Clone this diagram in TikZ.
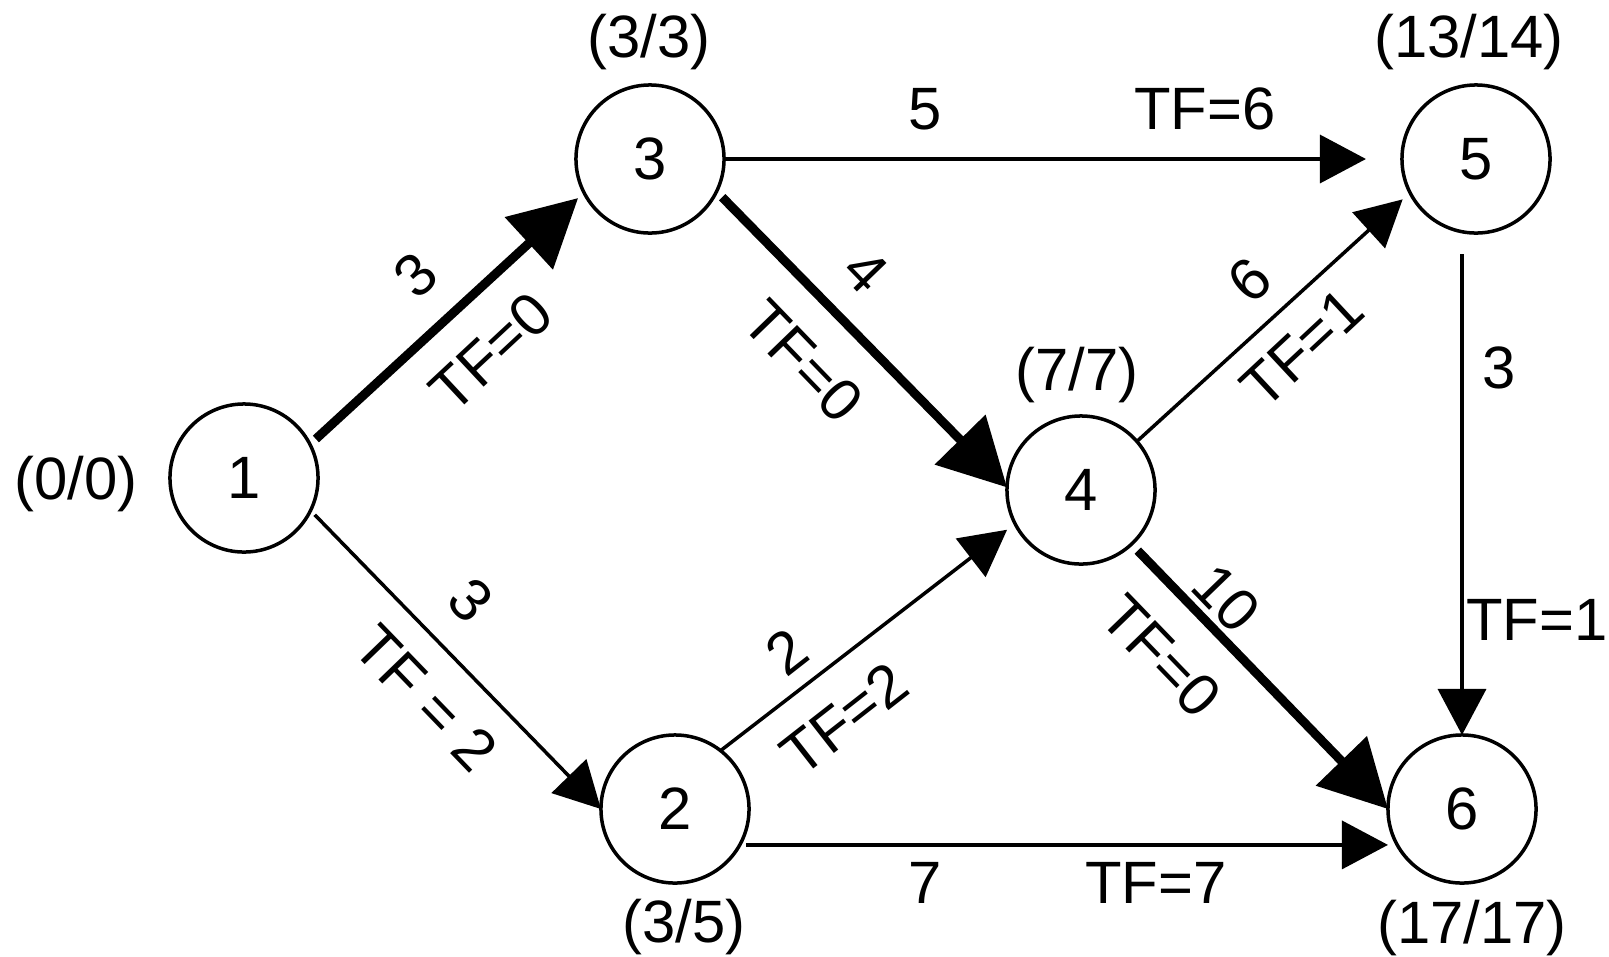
\documentclass[tikz,border=0pt]{standalone}
\usepackage{fontspec}
\setmainfont{Liberation Sans}
\usetikzlibrary{arrows.meta, calc}

\begin{document}
\begin{tikzpicture}[
  x=0.01cm, y=0.01cm,
  event/.style={circle, draw, line width=0.035cm, minimum size=1.48cm,
                inner sep=0pt, outer sep=0pt, font=\fontsize{17}{20}\selectfont},
  lbl/.style={inner sep=0pt, font=\fontsize{17}{20}\selectfont},
  arr/.style={-{Triangle[length=0.46cm, width=0.48cm]}, line width=0.035cm},
  crit/.style={-{Triangle[length=0.67cm, width=0.69cm]}, line width=0.09cm}
]
  \useasboundingbox (0,0) rectangle (1609,956);

  % Events
  \node[event] (ev1) at (244, 478)  {1};
  \node[event] (ev3) at (650, 797)  {3};
  \node[event] (ev5) at (1476, 797) {5};
  \node[event] (ev4) at (1081, 466) {4};
  \node[event] (ev2) at (675, 147)  {2};
  \node[event] (ev6) at (1462, 147) {6};

  % Event times (early/late)
  \node[lbl] (t1) at (76, 472)   {(0/0)};
  \node[lbl] (t3) at (649, 914)  {(3/3)};
  \node[lbl] (t5) at (1469, 914) {(13/14)};
  \node[lbl] (t4) at (1077, 581) {(7/7)};
  \node[lbl] (t2) at (684, 29)   {(3/5)};
  \node[lbl] (t6) at (1472, 28)  {(17/17)};

  % Activities
  \draw[crit, shorten <=0.08cm, shorten >=0.08cm] (ev1.27) -- (ev3.207);
  \draw[arr, shorten <=0.06cm] (ev1.-26) -- (ev2.west);
  \draw[arr, shorten >=0.36cm] (ev3.east) -- (ev5.west);
  \draw[crit, shorten <=0.08cm] (ev3.-26) -- (ev4.178);
  \draw[arr, shorten >=0.1cm] (ev2.52) -- (ev4.207);
  \draw[arr, shorten <=0.06cm] (ev2.-29) -- (ev2.-29 -| ev6.west);
  \draw[arr, shorten >=0.1cm] (ev4.41) -- (ev5.207);
  \draw[crit, shorten <=0.09cm] (ev4.-47) -- (ev6.west);
  \draw[arr, shorten <=0.21cm] (ev5.south -| ev6.north) -- (ev6.north);

  % Durations and total floats
  \node[lbl, rotate=43]  (d13) at (416, 681)  {3};
  \node[lbl, rotate=43]  (f13) at (491, 604)  {TF=0};
  \node[lbl, rotate=-46] (d12) at (471, 356)  {3};
  \node[lbl, rotate=-46] (f12) at (426, 258)  {TF = 2};
  \node[lbl]             (d35) at (925, 847)  {5};
  \node[lbl]             (f35) at (1205, 847) {TF=6};
  \node[lbl, rotate=-46] (d34) at (866, 685)  {4};
  \node[lbl, rotate=-46] (f34) at (803, 595)  {TF=0};
  \node[lbl, rotate=38]  (d24) at (787, 304)  {2};
  \node[lbl, rotate=38]  (f24) at (844, 237)  {TF=2};
  \node[lbl]             (d26) at (925, 73)   {7};
  \node[lbl]             (f26) at (1156, 73)  {TF=7};
  \node[lbl, rotate=43]  (d45) at (1250, 676) {6};
  \node[lbl, rotate=43]  (f45) at (1302, 608) {TF=1};
  \node[lbl, rotate=-46] (d46) at (1226, 358) {10};
  \node[lbl, rotate=-46] (f46) at (1161, 300) {TF=0};
  \node[lbl]             (d56) at (1499, 588) {3};
  \node[lbl]             (f56) at (1537, 336) {TF=1};
\end{tikzpicture}
\end{document}
